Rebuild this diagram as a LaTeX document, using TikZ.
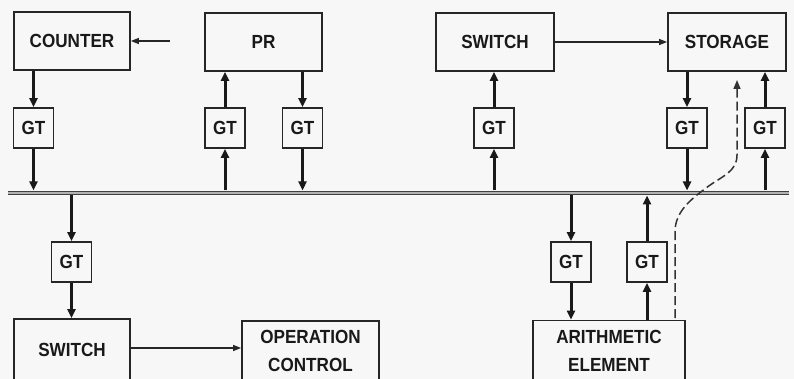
\documentclass[tikz,border=0pt]{standalone}
\usepackage{fontspec}
\setmainfont{Liberation Sans}[FakeStretch=0.9]
\usetikzlibrary{arrows.meta}
\begin{document}
\begin{tikzpicture}[x=1pt,y=-1pt,
  box/.style={draw=black!85, line width=1.8pt, inner sep=0pt, text=black!90,
    font=\fontsize{19}{27.5}\selectfont\bfseries, align=center},
  gt/.style={box, minimum width=40pt, minimum height=40pt},
  vline/.style={line width=3pt, draw=black!90, -{Triangle[length=9pt,width=8pt]}},
  hline/.style={line width=1.3pt, draw=black!85, -{Triangle[length=8pt,width=6pt]}},
  dline/.style={line width=1.5pt, draw=black!80, dash pattern=on 9pt off 4pt, -{Triangle[length=9pt,width=7pt]}},
  busline/.style={line width=1.2pt, draw=black!75, double=black!30, double distance=2.4pt}
]
\fill[black!3] (0,0) rectangle (794,379);
\useasboundingbox (0,0) rectangle (794,379);

% top boxes
\node[box, minimum width=116pt, minimum height=58pt] (counter) at (72,41) {COUNTER};
\node[box, minimum width=117pt, minimum height=58pt] (pr) at (263.5,42) {PR};
\node[box, minimum width=118pt, minimum height=58pt] (swt) at (495,42) {SWITCH};
\node[box, minimum width=118pt, minimum height=58pt] (stor) at (727,42) {STORAGE};

% upper gates
\node[gt] (g1) at (33.5,128) {GT};
\node[gt] (g2) at (225,128) {GT};
\node[gt] (g3) at (302.5,128) {GT};
\node[gt] (g4) at (494,128) {GT};
\node[gt] (g5) at (687,128) {GT};
\node[gt] (g6) at (765,128) {GT};

% lower gates
\node[gt] (g7) at (71.5,262) {GT};
\node[gt] (g8) at (571,262) {GT};
\node[gt] (g9) at (647,262) {GT};

% bottom boxes
\node[box, minimum width=116pt, minimum height=62pt] (swb) at (72,350) {SWITCH};
\node[box, minimum width=137pt, minimum height=60pt] (opc) at (310.5,351) {OPERATION\\CONTROL};
\node[box, minimum width=152pt, minimum height=61pt] (arith) at (609,351) {ARITHMETIC\\ELEMENT};

% bus
\coordinate (busL) at (8,193);
\coordinate (busR) at (789,193);
\coordinate (busT) at (0,190.5);
\coordinate (busB) at (0,195.5);
\draw[busline] (busL) -- (busR);

% counter column
\draw[vline] (g1.north |- counter.south) -- (g1.north);
\draw[vline] (g1.south) -- (g1.south |- busT);
% PR columns
\draw[vline] (g2.south |- busT) -- (g2.south);
\draw[vline] (g2.north) -- (g2.north |- pr.south);
\draw[vline] (g3.north |- pr.south) -- (g3.north);
\draw[vline] (g3.south) -- (g3.south |- busT);
% switch top
\draw[vline] (g4.south |- busT) -- (g4.south);
\draw[vline] (g4.north) -- (g4.north |- swt.south);
% storage
\draw[vline] (g5.north |- stor.south) -- (g5.north);
\draw[vline] (g5.south) -- (g5.south |- busT);
\draw[vline] (g6.south |- busT) -- (g6.south);
\draw[vline] (g6.north) -- (g6.north |- stor.south);
% lower
\draw[vline] (g7.north |- busB) -- (g7.north);
\draw[vline] (g7.south) -- (g7.south |- swb.north);
\draw[vline] (g8.north |- busB) -- (g8.north);
\draw[vline] (g8.south) -- (g8.south |- arith.north);
\draw[vline] (g9.south |- arith.north) -- (g9.south);
\draw[vline] (g9.north) -- (g9.north |- busB);

% horizontal arrows
\coordinate (cin) at (170,41);
\draw[hline] (cin) -- (counter.east |- cin);
\draw[hline] (swt.east) -- (stor.west);
\draw[hline] (swb.east |- 0,348) -- (opc.west |- 0,348);

% dashed path
\coordinate (dstart) at (675,318);
\coordinate (dend) at (737,80);
\draw[dline] (dstart) -- (675,232) .. controls (675,212) and (690,200) .. (706,188)
  .. controls (722,176) and (737,172) .. (737,155) -- (dend);
\end{tikzpicture}
\end{document}
